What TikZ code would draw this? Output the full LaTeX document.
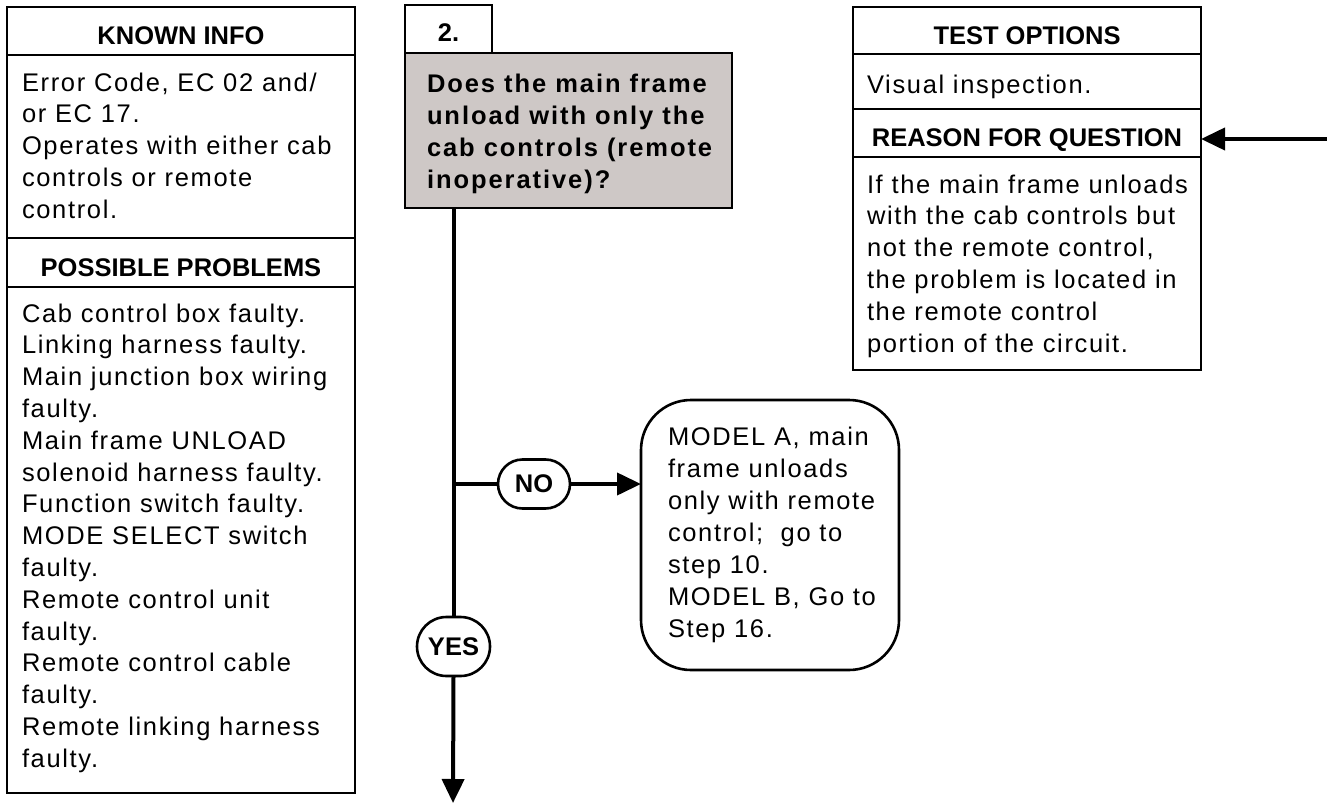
\documentclass[tikz,border=0pt]{standalone}
\usepackage{fontspec}
\setmainfont{Liberation Sans}
\newfontfamily\bodyf[LetterSpace=6.5]{Liberation Sans}
\newfontfamily\qf[LetterSpace=7.6]{Liberation Sans}
\usetikzlibrary{arrows.meta,shapes.misc}
\definecolor{qgrey}{RGB}{206,200,198}
\newcommand\fstrut{\rule{0pt}{24pt}}
\tikzset{
  sect/.style={draw, line width=2.6pt, rectangle, inner sep=0pt, outer sep=0pt},
  headtxt/.style={font=\fontsize{25.5}{31.8}\selectfont\bfseries, text height=28pt, text depth=0pt},
  bodytxt/.style={anchor=north west, inner sep=0pt, outer sep=0pt, align=left, font=\fontsize{25.5}{31.8}\selectfont\bodyf},
  qtxt/.style={anchor=north west, inner sep=0pt, outer sep=0pt, align=left, font=\fontsize{25.5}{31.7}\selectfont\qf\bfseries},
  modeltxt/.style={anchor=north west, inner sep=0pt, outer sep=0pt, align=left, font=\fontsize{25.5}{32.1}\selectfont\bodyf},
  pill/.style={draw, line width=2.6pt, rounded rectangle, fill=white, inner sep=0pt, outer sep=0pt, font=\fontsize{25.5}{31.8}\selectfont\bfseries},
  flow/.style={line width=4pt},
  flowarrow/.style={flow, -{Triangle[length=24pt,width=22pt]}},
}
\begin{document}
\begin{tikzpicture}[x=1pt,y=-1pt]
\useasboundingbox (0,0) rectangle (1327,805);
% left column
\node[sect, headtxt, minimum width=348pt, minimum height=48pt] (kih) at (181,31) {KNOWN INFO};
\node[sect, minimum width=348pt, minimum height=183pt] (kib) at (181,146.5) {};
\node[sect, headtxt, minimum width=348pt, minimum height=49pt] (pph) at (181,262.5) {POSSIBLE PROBLEMS};
\node[sect, minimum width=348pt, minimum height=506pt] (ppb) at (181,540) {};
\node[bodytxt] (kit) at (22,67) {\fstrut Error Code, EC 02 and/\\or EC 17.\\Operates with either cab\\controls or remote\\control.};
\node[bodytxt] (ppt) at (22,298) {\fstrut Cab control box faulty.\\Linking harness faulty.\\Main junction box wiring\\faulty.\\Main frame UNLOAD\\solenoid harness faulty.\\Function switch faulty.\\MODE SELECT switch\\faulty.\\Remote control unit\\faulty.\\Remote control cable\\faulty.\\Remote linking harness\\faulty.};
% center
\node[sect, headtxt, text height=26pt, minimum width=87pt, minimum height=48pt] (num) at (448.5,29) {2.};
\node[sect, fill=qgrey, minimum width=327pt, minimum height=155pt] (q) at (568.5,130.5) {};
\node[qtxt] (qt) at (427,69) {\fstrut Does the main frame\\unload with only the\\cab controls (remote\\inoperative)?};
\node[pill, minimum width=72pt, minimum height=49pt] (no) at (534,484) {NO};
\node[pill, minimum width=73pt, minimum height=59pt] (yes) at (453.5,646.5) {YES};
\node[draw, line width=2.6pt, rounded corners=50pt, inner sep=0pt, outer sep=0pt, minimum width=258pt, minimum height=270pt] (model) at (770,535) {};
\node[modeltxt] (mt) at (668,421) {\fstrut MODEL A, main\\frame unloads\\only with remote\\control;\ \ go to\\step 10.\\MODEL B, Go to\\Step 16.};
% right column
\node[sect, headtxt, minimum width=348pt, minimum height=47pt] (toh) at (1027,30.5) {TEST OPTIONS};
\node[sect, minimum width=348pt, minimum height=55pt] (tob) at (1027,81.5) {};
\node[sect, headtxt, minimum width=348pt, minimum height=48pt] (rqh) at (1027,133) {REASON FOR QUESTION};
\node[sect, minimum width=348pt, minimum height=213pt] (rqb) at (1027,263.5) {};
\node[bodytxt] (tot) at (867,70) {\fstrut Visual inspection.};
\node[bodytxt] (rqt) at (867,169) {\fstrut If the main frame unloads\\with the cab controls but\\not the remote control,\\the problem is located in\\the remote control\\portion of the circuit.};
% connectors
\coordinate (jn) at (453,484);
\coordinate (end) at (453,803);
\coordinate (rin) at (1327,139);
\draw[flow] (q.south -| yes) -- (yes.north);
\draw[flowarrow] (yes.south) -- (end);
\draw[flow] (jn) -- (no.west);
\draw[flowarrow] (no.east) -- (no.east -| model.west);
\draw[flowarrow] (rin) -- (rin -| rqh.east);
\end{tikzpicture}
\end{document}
